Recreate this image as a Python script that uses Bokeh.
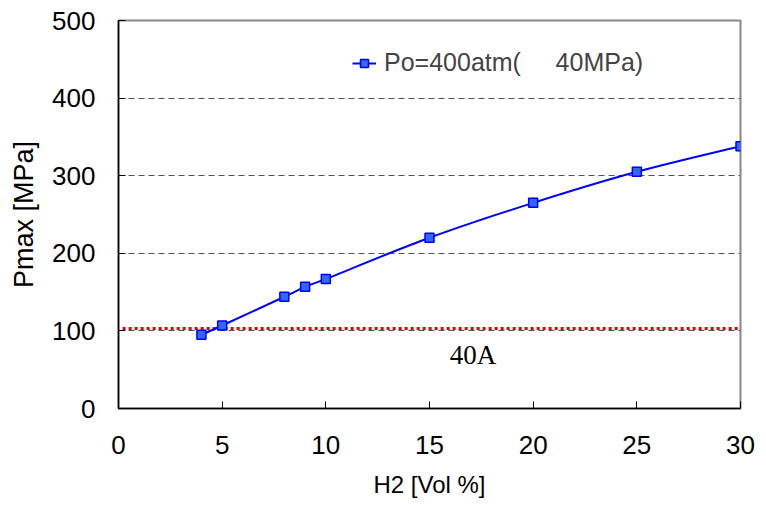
from bokeh.plotting import figure
from bokeh.models import Range1d, FixedTicker, Legend, LegendItem, Label, ColumnDataSource
from bokeh.embed import file_html
from bokeh.resources import INLINE

# Data
h2 = [4, 5, 8, 9, 10, 15, 20, 25, 30]
pmax = [95, 107, 144, 157, 167, 220, 265, 305, 338]
limit_x = [0.2, 30]
limit_y = [103, 103]
series_label = "Po=400atm(     40MPa)"
limit_label = "40A"
x_ticks = [0, 5, 10, 15, 20, 25, 30]
y_ticks = [0, 100, 200, 300, 400, 500]

FONT = "Liberation Sans"

p = figure(width=760, height=500, output_backend="svg", toolbar_location=None,
           x_range=Range1d(0, 30), y_range=Range1d(0, 500),
           min_border_left=118, min_border_right=20, min_border_top=20, min_border_bottom=91)

p.outline_line_color = "#888888"
p.outline_line_width = 2
p.background_fill_color = "white"

p.xgrid.visible = False
p.ygrid.ticker = FixedTicker(ticks=[100, 200, 300, 400])
p.ygrid.grid_line_color = "#555555"
p.ygrid.grid_line_dash = "6 4"
p.ygrid.grid_line_width = 1

for ax in (p.xaxis[0], p.yaxis[0]):
    ax.axis_line_color = "black"
    ax.axis_line_width = 1.5
    ax.major_tick_in = 7
    ax.major_tick_out = 0
    ax.minor_tick_line_color = None
    ax.major_tick_line_color = "black"
    ax.major_label_text_font = FONT
    ax.major_label_text_font_size = "26px"
    ax.major_label_text_color = "black"
    ax.axis_label_text_font = FONT
    ax.axis_label_text_font_style = "normal"
    ax.axis_label_text_color = "black"

p.xaxis.axis_label_text_font_size = "24px"
p.yaxis.axis_label_text_font_size = "27px"
p.xaxis.ticker = FixedTicker(ticks=x_ticks)
p.yaxis.ticker = FixedTicker(ticks=y_ticks)
p.xaxis.axis_label = "H2 [Vol %]"
p.yaxis.axis_label = "Pmax [MPa]"
p.xaxis.major_label_standoff = 27
p.yaxis.major_label_standoff = 23
p.xaxis.axis_label_standoff = 14
p.yaxis.axis_label_standoff = 10

# limit line
p.line(limit_x, limit_y, line_color="#e00000", line_width=3, line_dash="3 3")

# smoothed curve (Catmull-Rom style Bezier segments through the data points)
n = len(h2)
x0, y0, x1, y1, cx0, cy0, cx1, cy1 = [], [], [], [], [], [], [], []
for i in range(n - 1):
    pxm = h2[i - 1] if i > 0 else h2[i]
    pym = pmax[i - 1] if i > 0 else pmax[i]
    pxp = h2[i + 2] if i + 2 < n else h2[i + 1]
    pyp = pmax[i + 2] if i + 2 < n else pmax[i + 1]
    x0.append(h2[i]); y0.append(pmax[i])
    x1.append(h2[i + 1]); y1.append(pmax[i + 1])
    cx0.append(h2[i] + (h2[i + 1] - pxm) / 6); cy0.append(pmax[i] + (pmax[i + 1] - pym) / 6)
    cx1.append(h2[i + 1] - (pxp - h2[i]) / 6); cy1.append(pmax[i + 1] - (pyp - pmax[i]) / 6)
bsrc = ColumnDataSource(dict(x0=x0, y0=y0, x1=x1, y1=y1, cx0=cx0, cy0=cy0, cx1=cx1, cy1=cy1))
p.bezier(x0="x0", y0="y0", x1="x1", y1="y1", cx0="cx0", cy0="cy0", cx1="cx1", cy1="cy1",
         source=bsrc, line_color="#0000ff", line_width=2)

dummy = p.line(x=[float("nan")], y=[float("nan")], line_color="#0000ff", line_width=2)
sc = p.scatter(h2, pmax, marker="square", size=9, fill_color="#3366ff",
               line_color="#0000ff", line_width=1.5)

legend = Legend(items=[LegendItem(label=series_label, renderers=[dummy, sc])],
                location=(234, 331), border_line_color=None, background_fill_alpha=0,
                label_text_font=FONT, label_text_font_size="25px",
                glyph_width=24, label_standoff=8, padding=0, margin=0)
p.add_layout(legend)

p.add_layout(Label(x=17.1, y=69, text=limit_label, text_font="Liberation Serif",
                   text_font_size="27px", text_color="black", text_align="center",
                   text_baseline="middle"))

open("out.html", "w").write(file_html(p, INLINE))
